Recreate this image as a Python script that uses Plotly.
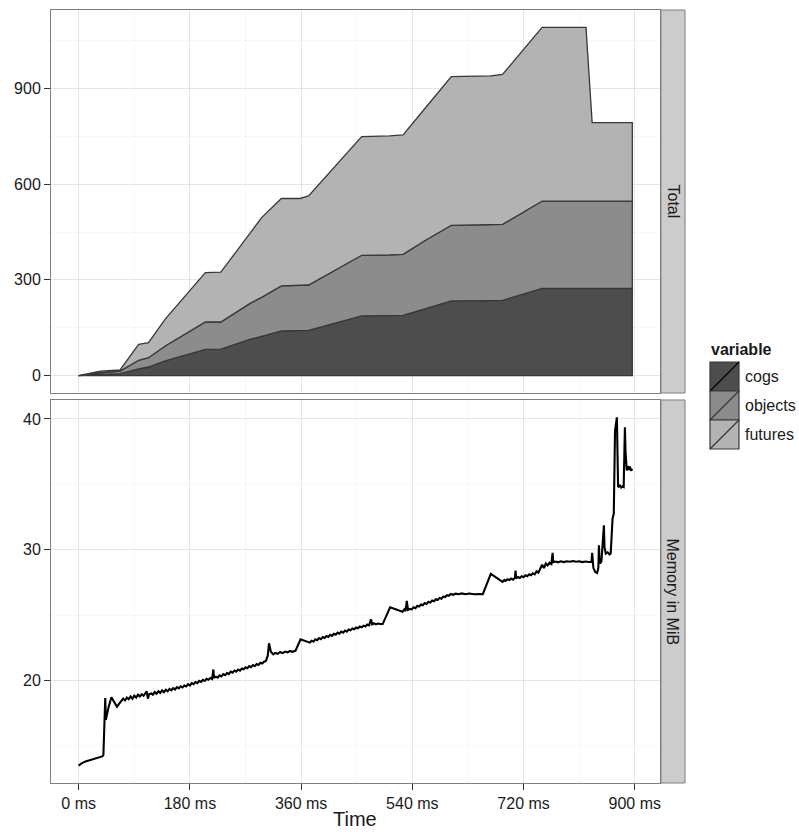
import plotly.graph_objects as go

# ---- stacked counts over time (top facet) ----
t_stack = [0, 35, 67, 97, 113, 140, 205, 230, 278, 296, 328, 358, 372, 458,
           503, 525, 562, 603, 667, 686, 750, 821, 831, 896]
cogs = [0, 4, 6, 21, 27, 46, 82, 83, 114, 123, 140, 141, 142, 187,
        188, 189, 210, 234, 235, 236, 273, 273, 273, 273]
objects = [0, 5, 8, 27, 29, 47, 86, 85, 113, 122, 141, 142, 142, 190,
           190, 191, 215, 237, 238, 238, 274, 274, 274, 274]
futures = [0, 5, 4, 50, 47, 84, 155, 156, 221, 250, 274, 272, 279, 372,
           373, 374, 416, 466, 466, 470, 544, 544, 246, 246]

# ---- memory usage over time (bottom facet) ----
mem_t = [0, 4, 11, 20, 30, 38, 40, 42, 43, 44, 45, 46, 48, 53, 57, 62, 66, 70,
         72, 75, 78, 81, 84, 87, 90, 93, 96, 99, 102, 105, 108, 110, 112, 114,
         117, 120, 123, 126, 129, 132, 135, 138, 141, 144, 147, 150, 153, 156,
         159, 162, 165, 168, 171, 174, 177, 180, 183, 186, 189, 192, 195, 198,
         201, 204, 207, 210, 213, 216, 218, 219, 222, 225, 228, 231, 234, 237,
         240, 243, 246, 249, 252, 255, 258, 261, 264, 267, 270, 273, 276, 279,
         282, 285, 288, 291, 294, 297, 300, 303, 306, 308, 311, 315, 318, 322,
         326, 330, 334, 338, 342, 346, 351, 359, 374, 377, 380, 383, 386, 389,
         392, 395, 398, 401, 404, 407, 410, 413, 416, 419, 422, 425, 428, 431,
         434, 437, 440, 443, 446, 449, 452, 455, 458, 461, 464, 467, 470, 473,
         475, 478, 481, 484, 488, 492, 504, 524, 527, 529, 531, 533, 536, 539,
         542, 545, 548, 551, 554, 557, 560, 563, 566, 569, 572, 575, 578, 581,
         584, 587, 590, 593, 596, 599, 602, 606, 610, 615, 620, 626, 632, 640,
         648, 654, 667, 686, 689, 691, 694, 697, 700, 703, 706, 707, 708, 711,
         714, 717, 720, 723, 726, 729, 732, 735, 738, 741, 744, 747, 750, 753,
         756, 759, 762, 765, 767, 768, 772, 776, 780, 785, 790, 795, 800, 805,
         810, 815, 820, 826, 830, 831, 833, 836, 839, 841, 842, 843, 844, 846,
         850, 851, 853, 856, 859, 861, 864, 866, 868, 871, 872, 873, 876, 878,
         880, 882, 884, 885, 887, 889, 890, 892, 894, 896]
mem_v = [13.50, 13.65, 13.82, 13.95, 14.08, 14.20, 14.30, 17.90, 18.66, 17.00,
         17.30, 17.40, 17.90, 18.73, 18.40, 18.00, 18.25, 18.47,
         18.62, 18.48, 18.70, 18.58, 18.78, 18.62, 18.85, 18.70, 18.92, 18.78,
         18.95, 18.84, 19.05, 19.18, 18.62, 18.95,
         19.02, 18.92, 19.12, 19.00, 19.18, 19.06, 19.25, 19.12, 19.30, 19.18,
         19.36, 19.26, 19.42, 19.32,
         19.50, 19.40, 19.56, 19.48, 19.62, 19.55, 19.72, 19.62, 19.80, 19.72,
         19.88, 19.80, 19.98, 19.90,
         20.06, 19.98, 20.14, 20.06, 20.20, 20.12, 20.85, 20.20, 20.30, 20.22,
         20.40, 20.32, 20.50, 20.42,
         20.58, 20.50, 20.68, 20.60, 20.76, 20.68, 20.84, 20.76, 20.92, 20.86,
         21.02, 20.94, 21.10, 21.02,
         21.18, 21.10, 21.26, 21.20, 21.36, 21.30, 21.44, 21.50, 21.90, 22.85,
         22.20, 22.00, 22.12, 22.05,
         22.18, 22.10, 22.22, 22.16, 22.26, 22.20, 22.29, 23.15, 22.90, 23.05,
         22.98, 23.15, 23.08, 23.24,
         23.16, 23.32, 23.25, 23.40, 23.34, 23.50, 23.42, 23.58, 23.50, 23.66,
         23.58, 23.74, 23.66, 23.82,
         23.74, 23.90, 23.84, 23.98, 23.92, 24.06, 24.00, 24.14, 24.08, 24.20,
         24.14, 24.28, 24.22, 24.68,
         24.30, 24.38, 24.30, 24.36, 24.32, 24.32, 25.60, 25.26, 25.45, 25.30,
         26.10, 25.40, 25.48, 25.44,
         25.60, 25.54, 25.72, 25.66, 25.82, 25.76, 25.92, 25.86, 26.02, 25.96,
         26.12, 26.06, 26.22, 26.16,
         26.32, 26.26, 26.42, 26.38, 26.52, 26.48, 26.62, 26.56, 26.64, 26.60,
         26.66, 26.60, 26.65, 26.60,
         26.62, 26.60, 28.15, 27.55, 27.70, 27.62, 27.75, 27.68, 27.80, 27.72,
         27.85, 28.40, 27.80, 27.92,
         27.84, 27.98, 27.90, 28.05, 27.98, 28.12, 28.05, 28.20, 28.12, 28.35,
         28.25, 28.60, 28.85, 28.60,
         28.95, 28.80, 29.00, 28.90, 29.76, 29.05, 29.10, 29.04, 29.12, 29.06,
         29.12, 29.08, 29.14, 29.08,
         29.12, 29.06, 29.10, 29.07, 29.07, 29.76, 28.60, 28.30, 28.23, 28.60,
         30.34, 29.20, 28.95, 29.10,
         31.87, 30.20, 29.71, 29.80, 29.65, 29.70, 32.38, 32.76, 39.10, 40.12,
         37.00, 34.79, 34.90, 34.75,
         34.85, 34.80, 39.36, 37.50, 36.06, 36.40, 36.10, 36.35, 36.05, 36.19]

layer_names = ["cogs", "objects", "futures"]
layer_values = [cogs, objects, futures]
layer_fills = ["#4d4d4d", "#8c8c8c", "#b3b3b3"]
outline = "#383838"

FONT = "Liberation Sans, Arial, Helvetica, sans-serif"
TEXT = "#1a1a1a"
GRID = "#e5e5e5"
MINOR = "#f7f7f7"
BORDER = "#7f7f7f"

fig = go.Figure()

# stacked areas: each layer is a closed polygon from its lower to upper edge
lower = [0] * len(t_stack)
for name, vals, fill in zip(layer_names, layer_values, layer_fills):
    upper = [a + b for a, b in zip(lower, vals)]
    xs = t_stack + t_stack[::-1]
    ys = upper + lower[::-1]
    fig.add_trace(go.Scatter(
        x=xs, y=ys, mode="lines", fill="toself", fillcolor=fill,
        line=dict(color=outline, width=1.3), name=name,
        showlegend=False, xaxis="x", yaxis="y", hoverinfo="skip"))
    lower = upper

fig.add_trace(go.Scatter(
    x=mem_t, y=mem_v, mode="lines", line=dict(color="black", width=2.1),
    showlegend=False, xaxis="x2", yaxis="y2"))

x_range = [-44.8, 940.8]
top_dom = [0.5045, 1.0]
bot_dom = [0.0, 0.4955]

common_x = dict(range=x_range, showgrid=True, gridcolor=GRID, gridwidth=1,
                tick0=0, dtick=180, tickmode="linear",
                minor=dict(dtick=90, tick0=0, showgrid=True, gridcolor=MINOR,
                           gridwidth=1),
                showline=True, mirror=True, linecolor=BORDER, linewidth=1,
                zeroline=False)
common_y = dict(showgrid=True, gridcolor=GRID, gridwidth=1,
                showline=True, mirror=True, linecolor=BORDER, linewidth=1,
                zeroline=False, ticks="outside", ticklen=6, tickwidth=1.2,
                tickcolor="#333333", tickmode="linear",
                tickfont=dict(family=FONT, size=16, color=TEXT))

fig.update_layout(
    width=799, height=832,
    margin=dict(l=51, r=139, t=10, b=49),
    paper_bgcolor="white", plot_bgcolor="white",
    font=dict(family=FONT, color=TEXT),
    xaxis=dict(common_x, domain=[0, 1], anchor="y", showticklabels=False,
               ticks=""),
    xaxis2=dict(common_x, domain=[0, 1], anchor="y2", matches="x",
                ticks="outside", ticklen=6, tickwidth=1.2, tickcolor="#333333",
                ticksuffix=" ms",
                tickfont=dict(family=FONT, size=16, color=TEXT)),
    yaxis=dict(common_y, domain=top_dom, anchor="x", range=[-54.5, 1145.6],
               tick0=0, dtick=300,
               minor=dict(dtick=150, tick0=0, showgrid=True, gridcolor=MINOR)),
    yaxis2=dict(common_y, domain=bot_dom, anchor="x2", range=[12.17, 41.45],
                tick0=0, dtick=10,
                minor=dict(dtick=5, tick0=0, showgrid=True, gridcolor=MINOR)),
)

# facet strips on the right
strip_x0, strip_x1 = 1.0016, 1.0411
for dom, label in [(top_dom, "Total"), (bot_dom, "Memory in MiB")]:
    fig.add_shape(type="rect", xref="paper", yref="paper",
                  x0=strip_x0, x1=strip_x1, y0=dom[0], y1=dom[1],
                  fillcolor="#cccccc", line=dict(color=BORDER, width=1))
    fig.add_annotation(xref="paper", yref="paper",
                       x=(strip_x0 + strip_x1) / 2, y=(dom[0] + dom[1]) / 2,
                       text=label, textangle=90, showarrow=False,
                       font=dict(family=FONT, size=16, color=TEXT),
                       xanchor="center", yanchor="middle")

# x axis title
fig.add_annotation(xref="paper", yref="paper", x=0.499, y=-0.047,
                   text="Time", showarrow=False,
                   font=dict(family=FONT, size=20, color=TEXT),
                   xanchor="center", yanchor="middle")

# legend: keys with fill, outline and diagonal stroke
key_x0, key_x1 = 1.0821, 1.1297
key_h = 0.0375
key_top = 0.5446
fig.add_annotation(xref="paper", yref="paper", x=key_x0 - 0.002, y=0.5602,
                   text="<b>variable</b>", showarrow=False,
                   font=dict(family=FONT, size=16, color=TEXT),
                   xanchor="left", yanchor="middle")
for i, (name, fill) in enumerate(zip(layer_names, layer_fills)):
    y1 = key_top - i * key_h
    y0 = y1 - key_h
    fig.add_shape(type="rect", xref="paper", yref="paper",
                  x0=key_x0, x1=key_x1, y0=y0, y1=y1,
                  fillcolor=fill, line=dict(color=outline, width=1.2))
    fig.add_shape(type="line", xref="paper", yref="paper",
                  x0=key_x0, x1=key_x1, y0=y0, y1=y1,
                  line=dict(color=outline if i else "black", width=1.2))
    fig.add_annotation(xref="paper", yref="paper", x=1.1363,
                       y=(y0 + y1) / 2, text=name, showarrow=False,
                       font=dict(family=FONT, size=16, color=TEXT),
                       xanchor="left", yanchor="middle")

fig.write_html("out.html")
